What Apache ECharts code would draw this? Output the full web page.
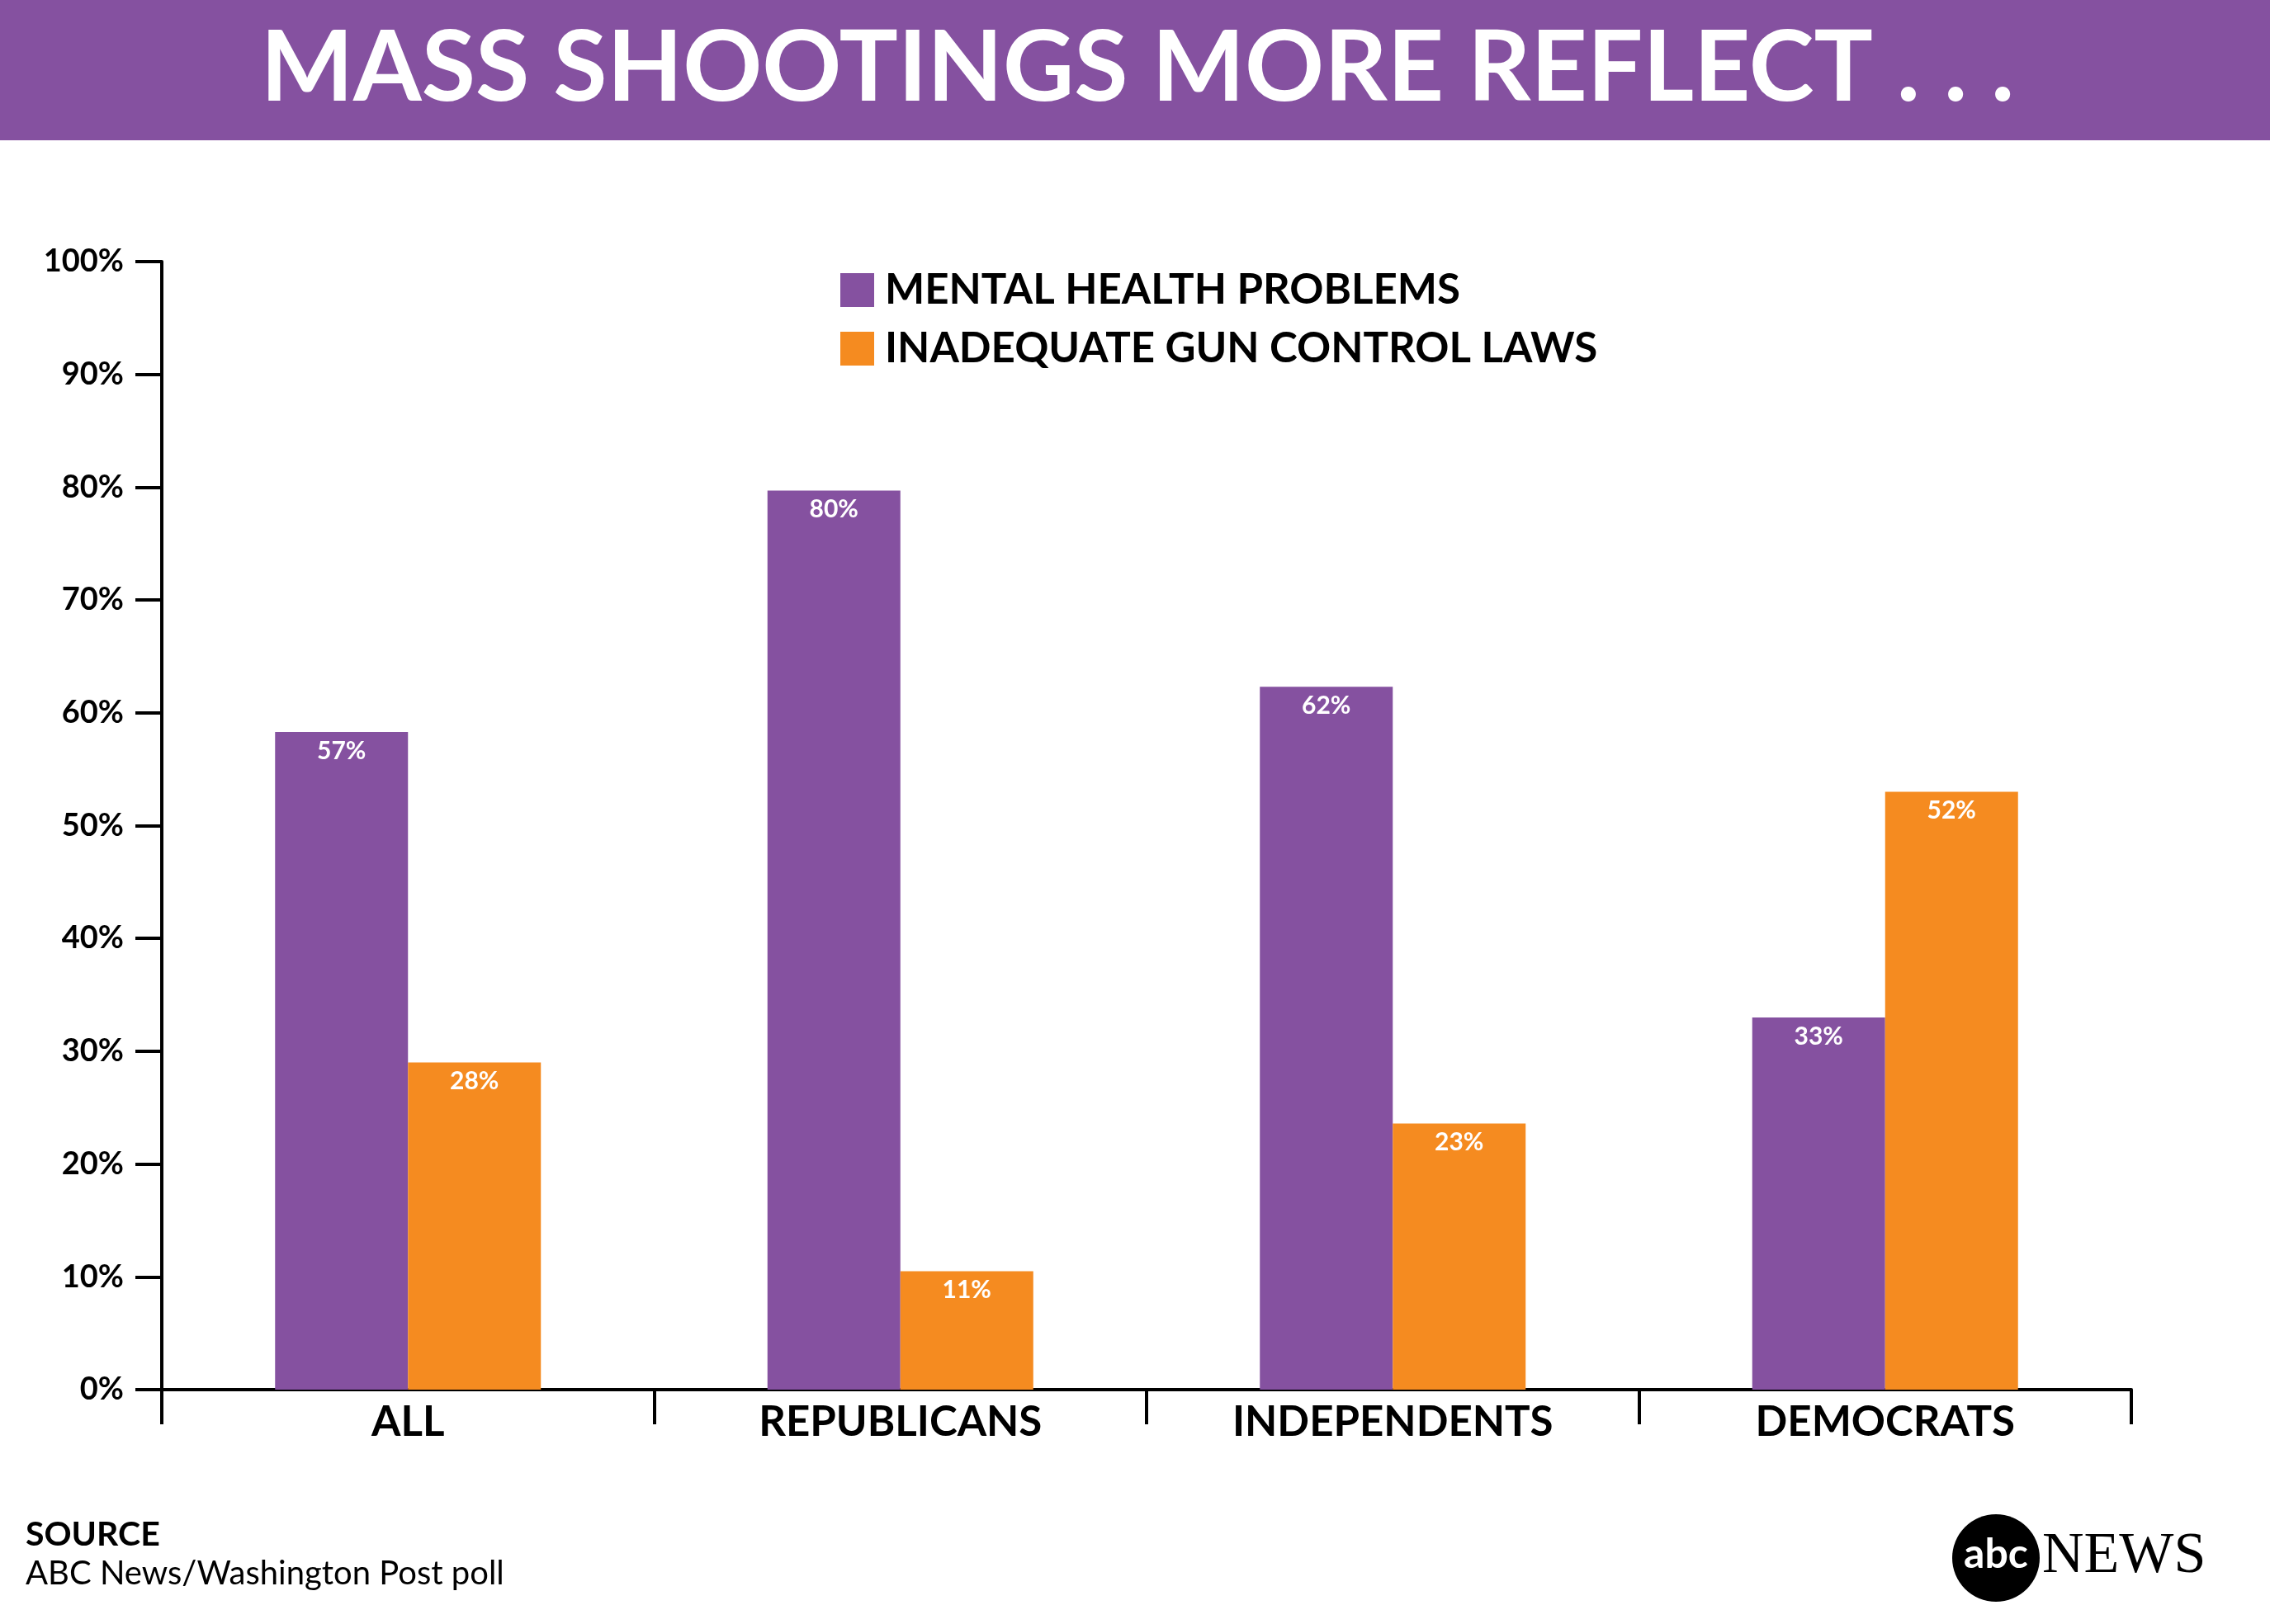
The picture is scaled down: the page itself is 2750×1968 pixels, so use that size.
<!DOCTYPE html>
<html>
<head>
<meta charset="utf-8">
<script src="https://cdn.jsdelivr.net/npm/echarts@6/dist/echarts.min.js"></script>
<style>
html,body{margin:0;padding:0;background:#fff;}
#chart{width:2750px;height:1968px;}
</style>
</head>
<body>
<div id="chart"></div>
<script>
const categories = ['ALL', 'REPUBLICANS', 'INDEPENDENTS', 'DEMOCRATS'];
const seriesNames = ['MENTAL HEALTH PROBLEMS', 'INADEQUATE GUN CONTROL LAWS'];
const mentalHealth = [58.3, 79.7, 62.3, 33.0];
const gunControl = [29.0, 10.5, 23.6, 53.0];
const mentalHealthLabels = ['57%', '80%', '62%', '33%'];
const gunControlLabels = ['28%', '11%', '23%', '52%'];
const titleText = 'MASS SHOOTINGS MORE REFLECT . . .';
const sourceHead = 'SOURCE';
const sourceText = 'ABC News/Washington Post poll';

const PURPLE = '#8551A0';
const ORANGE = '#F58B20';
const FONT = 'Lato, "Open Sans", sans-serif';

const chart = echarts.init(document.getElementById('chart'), null, {renderer: 'canvas'});

function barLabel(labels) {
  return {
    show: true,
    position: 'insideTop',
    distance: 8,
    color: '#fff',
    fontFamily: FONT,
    fontWeight: 'bold',
    fontSize: 30,
    formatter: p => labels[p.dataIndex]
  };
}

const option = {
  backgroundColor: '#fff',
  animation: false,
  grid: {left: 196, right: 168, top: 317, bottom: 284, containLabel: false},
  legend: {
    orient: 'vertical',
    left: 1013,
    top: 321,
    itemWidth: 41,
    itemHeight: 41,
    itemGap: 20,
    icon: 'rect',
    selectedMode: false,
    textStyle: {fontFamily: FONT, fontWeight: 'bold', fontSize: 51, lineHeight: 41, color: '#000', padding: [0, 0, 0, 8]},
    data: seriesNames
  },
  xAxis: {
    type: 'category',
    data: categories,
    axisLine: {show: true, lineStyle: {color: '#000', width: 4}},
    axisTick: {show: true, alignWithLabel: false, length: 42, lineStyle: {color: '#000', width: 4}},
    axisLabel: {fontFamily: FONT, fontWeight: 'bold', fontSize: 51, color: '#000', margin: 14},
    splitLine: {show: false}
  },
  yAxis: {
    type: 'value',
    min: 0,
    max: 100,
    interval: 10,
    axisLine: {show: true, lineStyle: {color: '#000', width: 4}},
    axisTick: {show: true, length: 32, lineStyle: {color: '#000', width: 4}},
    axisLabel: {fontFamily: FONT, fontWeight: 'bold', fontSize: 38, color: '#000', margin: 46, formatter: '{value}%'},
    splitLine: {show: false}
  },
  series: [
    {
      name: seriesNames[0],
      type: 'bar',
      data: mentalHealth,
      itemStyle: {color: PURPLE},
      barWidth: 161,
      barGap: '0%',
      label: barLabel(mentalHealthLabels)
    },
    {
      name: seriesNames[1],
      type: 'bar',
      data: gunControl,
      itemStyle: {color: ORANGE},
      barWidth: 161,
      barGap: '0%',
      label: barLabel(gunControlLabels)
    }
  ],
  graphic: [
    {type: 'rect', left: 0, top: 0, z: -1, shape: {width: 2750, height: 170}, style: {fill: PURPLE}},
    {type: 'text', x: 1378, y: 84, style: {text: titleText, fill: '#fff', font: 'bold 119px ' + FONT, textAlign: 'center', textVerticalAlign: 'middle'}},
    {type: 'text', x: 31, y: 1860, style: {text: sourceHead, fill: '#000', font: 'bold 41px ' + FONT, textAlign: 'left', textVerticalAlign: 'middle'}},
    {type: 'text', x: 31, y: 1907, style: {text: sourceText, fill: '#000', font: '40px ' + FONT, textAlign: 'left', textVerticalAlign: 'middle'}},
    {type: 'circle', shape: {cx: 2418, cy: 1888, r: 53}, style: {fill: '#000'}},
    {type: 'text', x: 2418, y: 1884, style: {text: 'abc', fill: '#fff', font: 'bold 50px ' + FONT, textAlign: 'center', textVerticalAlign: 'middle'}},
    {type: 'text', x: 2474, y: 1887, style: {text: 'NEWS', fill: '#000', font: '70px "Liberation Serif", "DejaVu Serif", serif', textAlign: 'left', textVerticalAlign: 'middle'}}
  ]
};
chart.setOption(option);
</script>
</body>
</html>
